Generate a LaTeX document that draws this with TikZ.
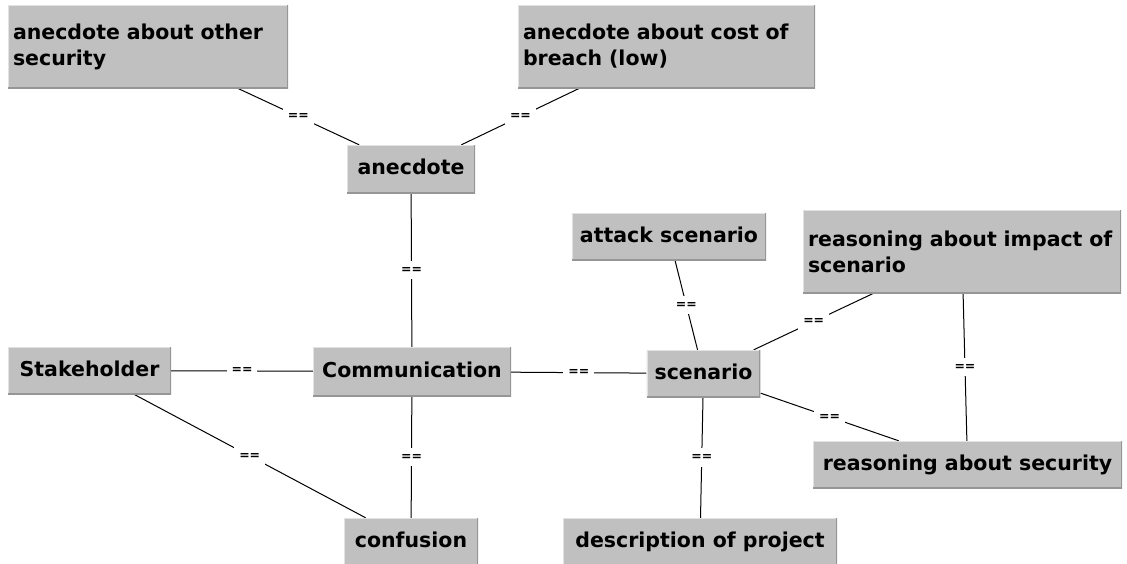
\documentclass[tikz,border=0pt]{standalone}
\usepackage{fontspec}
\setsansfont{DejaVu Sans}
\usepackage{xcolor}
\usepackage{tikz}
\usetikzlibrary{positioning,backgrounds}
\pgfdeclarelayer{edgelayer}
\pgfdeclarelayer{nodelayer}
\pgfsetlayers{background,edgelayer,nodelayer,main}
\definecolor{boxgrey}{RGB}{192,192,192}
\definecolor{boxlight}{RGB}{226,226,226}
\definecolor{boxdark}{RGB}{150,150,150}
\tikzstyle{gb}=[shape=rectangle,fill=boxgrey,inner xsep=8pt,inner ysep=0pt,
	font=\sffamily\bfseries\fontsize{20.5}{26}\selectfont,
	path picture={
		\draw[line width=2.4pt,boxlight] (path picture bounding box.south west) -- (path picture bounding box.north west) -- (path picture bounding box.north east);
		\draw[line width=2.4pt,boxdark] (path picture bounding box.south west) -- (path picture bounding box.south east) -- (path picture bounding box.north east);
	}]
\tikzstyle{one}=[gb,text height=15pt,text depth=4pt]
\tikzstyle{two}=[gb,inner xsep=5pt,align=left]
\tikzstyle{eq}=[fill=white,inner xsep=5pt,inner ysep=6pt,font=\sffamily\bfseries\fontsize{12.5}{12.5}\selectfont]
\tikzstyle{link}=[line width=1pt,black]

\begin{document}
\begin{tikzpicture}[x=1pt,y=-1pt]
	\useasboundingbox (0,0) rectangle (1127,563);
	\begin{pgfonlayer}{nodelayer}
		\node [style=two,minimum width=280pt,minimum height=83pt,text width=270pt] (oth) at (148, 46.5) {anecdote about other\\security\\[-3pt]};
		\node [style=two,minimum width=297pt,minimum height=83pt,text width=287pt] (cost) at (666.5, 46.5) {anecdote about cost of\\breach (low)\\[-3pt]};
		\node [style=one,minimum width=128pt,minimum height=48pt] (anec) at (411, 169) {anecdote};
		\node [style=one,minimum width=184pt,minimum height=47pt] (att) at (669, 236.5) {attack scenario};
		\node [style=two,minimum width=318pt,minimum height=83pt,text width=308pt] (imp) at (962, 251.5) {reasoning about impact of\\scenario\\[-3pt]};
		\node [style=one,minimum width=163pt,minimum height=47pt] (stake) at (89.5, 370.5) {Stakeholder};
		\node [style=one,minimum width=198pt,minimum height=49pt] (comm) at (412, 371.5) {Communication};
		\node [style=one,minimum width=111pt,minimum height=47pt] (scen) at (703.5, 373.5) {scenario};
		\node [style=one,minimum width=309pt,minimum height=47pt] (sec) at (967.5, 464.5) {reasoning about security};
		\node [style=one,minimum width=134pt,minimum height=48pt] (conf) at (411, 542) {confusion};
		\node [style=one,minimum width=274pt,minimum height=48pt] (desc) at (700, 542) {description of project};
	\end{pgfonlayer}
	\begin{pgfonlayer}{edgelayer}
		\draw[link] (oth) to node[eq] {==} (anec);
		\draw[link] (cost) to node[eq] {==} (anec);
		\draw[link] (anec) to node[eq] {==} (comm);
		\draw[link] (stake) to node[eq] {==} (comm);
		\draw[link] (comm) to node[eq] {==} (scen);
		\draw[link] (comm) to node[eq] {==} (conf);
		\draw[link] (stake) to node[eq] {==} (conf);
		\draw[link] (att) to node[eq] {==} (scen);
		\draw[link] (imp) to node[eq] {==} (scen);
		\draw[link] (imp) to node[eq] {==} (sec);
		\draw[link] (scen) to node[eq] {==} (sec);
		\draw[link] (scen) to node[eq] {==} (desc);
	\end{pgfonlayer}
\end{tikzpicture}
\end{document}
